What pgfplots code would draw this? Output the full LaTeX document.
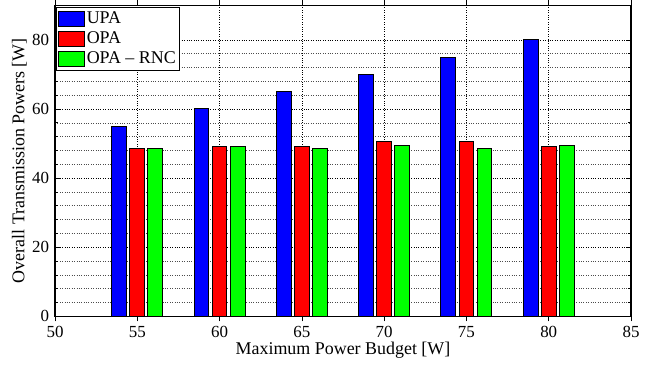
\documentclass[border=0pt]{standalone}
\usepackage{pgfplots}
\pgfplotsset{compat=1.18}
\usepackage{fontspec}
\setmainfont{Liberation Serif}
\begin{document}
\fontsize{17}{20}\selectfont
\begin{tikzpicture}
\begin{axis}[
  name=ax,
  scale only axis, width=576bp, height=311bp,
  xmin=50, xmax=85, ymin=0, ymax=90,
  xtick={50,55,...,85}, ytick={0,20,...,80},
  xticklabels={50,55,60,65,70,75,80,85},
  yticklabels={0,20,40,60,80},
  minor y tick num=4,
  ymajorgrids, yminorgrids, xmajorgrids,
  major grid style={dotted, black, line width=0.6pt},
  minor grid style={dotted, black!70, line width=0.5pt},
  tick align=inside,
  major tick length=5bp, minor tick length=3bp,
  tick style={black, line width=0.6pt},
  axis line style={line width=1.3pt},
  ticklabel style={font=\fontsize{17}{20}\selectfont},
  label style={font=\fontsize{18}{21}\selectfont},
  xticklabel style={yshift=1bp},
  xlabel={Maximum Power Budget [W]},
  ylabel={Overall Transmission Powers [W]},
  xlabel style={yshift=7bp},
  ylabel style={yshift=-6bp},
  ybar=0pt, bar width=0.9,
  legend style={at={(rel axis cs:0,1)}, anchor=north west, xshift=1bp, yshift=-1.5bp,
    draw=black, line width=1pt, fill=white, inner xsep=2bp, inner ysep=2bp,
    font=\fontsize{18}{21}\selectfont, row sep=2bp,
    /tikz/every even column/.append style={column sep=0bp}},
  legend cell align=left,
  legend image code/.code={\draw[#1, line width=0.8pt] (0bp,-7.5bp) rectangle (25.5bp,7.5bp);},
]
\addplot[fill={rgb,1:red,0;green,0;blue,1}, draw=black, line width=1pt, bar shift=-1.1] coordinates {(55,55) (60,60) (65,65) (70,70) (75,75) (80,80)};
\addplot[fill={rgb,1:red,1;green,0;blue,0}, draw=black, line width=1pt, bar shift=0] coordinates {(55,48.45) (60,49.0) (65,49.0) (70,50.5) (75,50.5) (80,49.0)};
\addplot[fill={rgb,1:red,0;green,1;blue,0}, draw=black, line width=1pt, bar shift=1.1] coordinates {(55,48.45) (60,49.0) (65,48.45) (70,49.5) (75,48.6) (80,49.5)};
\legend{UPA, OPA, OPA -- RNC}
\end{axis}
\path (ax.south west) ++(-55bp,-45bp) coordinate (bl);
\path (ax.north east) ++(30bp,5bp) coordinate (tr);
\path (bl) rectangle (tr);
\end{tikzpicture}
\end{document}
